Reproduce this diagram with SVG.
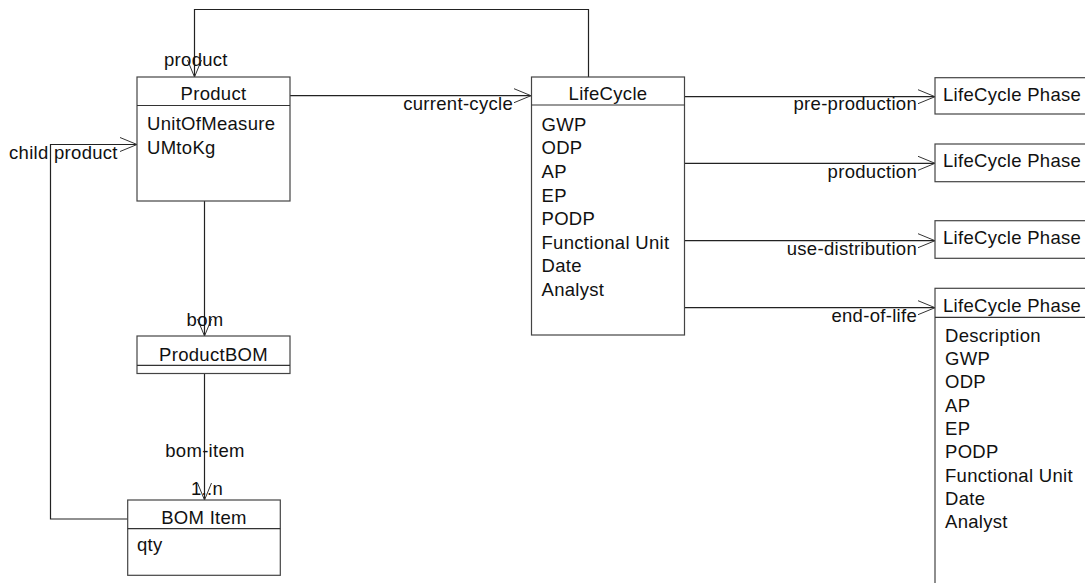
<svg xmlns="http://www.w3.org/2000/svg" width="1085" height="583" viewBox="0 0 1085 583">
<defs>
<marker id="open" markerWidth="20" markerHeight="18" refX="17" refY="8" orient="auto" markerUnits="userSpaceOnUse">
<path d="M0,1 L17,8 L0,15" fill="none" stroke="#333" stroke-width="1"/>
</marker>
<style>
text{font-family:"Liberation Sans",Arial,sans-serif;font-size:18.5px;letter-spacing:0.3px;fill:#111}
.box{fill:#fff;stroke:#444;stroke-width:1.2}
.sep{stroke:#333;stroke-width:1.2}
.c{text-anchor:middle}
.e{text-anchor:end}
.conn{fill:none;stroke:#222;stroke-width:1.2}
</style>
</defs>
<rect width="1085" height="583" fill="#fff"/>
<g id="connectors">
<path class="conn" d="M588.5,77 V9.5 H194.5 V77" marker-end="url(#open)"/>
<path class="conn" d="M290,95.7 H531" marker-end="url(#open)"/>
<path class="conn" d="M684.5,96.7 H935" marker-end="url(#open)"/>
<path class="conn" d="M684.5,163.3 H935" marker-end="url(#open)"/>
<path class="conn" d="M684.5,240.7 H935" marker-end="url(#open)"/>
<path class="conn" d="M684.5,307.7 H935" marker-end="url(#open)"/>
<path class="conn" d="M204.5,201 V336" marker-end="url(#open)"/>
<path class="conn" d="M204.5,373.5 V500" marker-end="url(#open)"/>
<path class="conn" d="M127.7,519 H50.5 V144.5 H137" marker-end="url(#open)"/>
<text x="164" y="66">product</text>
<text class="e" x="513" y="110">current-cycle</text>
<text class="e" x="917" y="110">pre-production</text>
<text class="e" x="917" y="177.5">production</text>
<text class="e" x="917" y="255">use-distribution</text>
<text class="e" x="917" y="322">end-of-life</text>
<text x="9" y="159">child product</text>
<text class="c" x="205" y="326">bom</text>
<text class="c" x="205" y="457">bom-item</text>
<text class="c" x="207" y="495">1..n</text>
</g>
<g id="product">
<rect class="box" x="137" y="77" width="153" height="124"/>
<line class="sep" x1="137" y1="105.5" x2="290" y2="105.5"/>
<text class="c" x="213.5" y="100">Product</text>
<text x="147" y="130">UnitOfMeasure</text>
<text x="147" y="154">UMtoKg</text>
</g>
<g id="lifecycle">
<rect class="box" x="531.5" y="77" width="153" height="258"/>
<line class="sep" x1="531.5" y1="105" x2="684.5" y2="105"/>
<text class="c" x="608" y="100">LifeCycle</text>
<text x="541.5" y="130.7">GWP</text>
<text x="541.5" y="154.3">ODP</text>
<text x="541.5" y="177.9">AP</text>
<text x="541.5" y="201.5">EP</text>
<text x="541.5" y="225.1">PODP</text>
<text x="541.5" y="248.7">Functional Unit</text>
<text x="541.5" y="272.3">Date</text>
<text x="541.5" y="295.9">Analyst</text>
</g>
<g id="phase1">
<rect class="box" x="935" y="77.7" width="160" height="36.3"/>
<text x="943" y="101">LifeCycle Phase</text>
</g>
<g id="phase2">
<rect class="box" x="935" y="144" width="160" height="37.7"/>
<text x="943" y="167.3">LifeCycle Phase</text>
</g>
<g id="phase3">
<rect class="box" x="935" y="220.7" width="160" height="37.6"/>
<text x="943" y="244">LifeCycle Phase</text>
</g>
<g id="phase4">
<rect class="box" x="935" y="288.3" width="160" height="320"/>
<line class="sep" x1="935" y1="317.3" x2="1095" y2="317.3"/>
<text x="943" y="311.7">LifeCycle Phase</text>
<text x="945" y="341.7">Description</text>
<text x="945" y="365">GWP</text>
<text x="945" y="388.3">ODP</text>
<text x="945" y="411.7">AP</text>
<text x="945" y="435">EP</text>
<text x="945" y="458.3">PODP</text>
<text x="945" y="481.7">Functional Unit</text>
<text x="945" y="505">Date</text>
<text x="945" y="528.3">Analyst</text>
</g>
<g id="productbom">
<rect class="box" x="137" y="336" width="153" height="37.5"/>
<line class="sep" x1="137" y1="365.3" x2="290" y2="365.3"/>
<text class="c" x="213.5" y="360.5">ProductBOM</text>
</g>
<g id="bomitem">
<rect class="box" x="127.7" y="500" width="152.6" height="75.3"/>
<line class="sep" x1="127.7" y1="528.7" x2="280.3" y2="528.7"/>
<text class="c" x="204" y="524">BOM Item</text>
<text x="137" y="551">qty</text>
</g>
</svg>
